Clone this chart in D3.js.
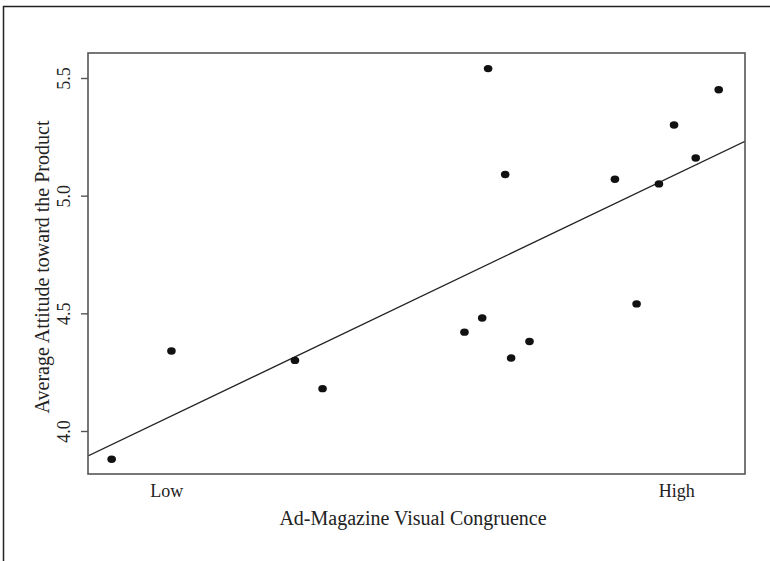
<!DOCTYPE html>
<html>
<head>
<meta charset="utf-8">
<script src="https://cdn.jsdelivr.net/npm/d3@7"></script>
<style>
  html, body { margin: 0; padding: 0; background: #fff; }
  svg { display: block; }
  text { font-family: "Liberation Serif", "Times New Roman", serif; fill: #222; }
</style>
</head>
<body>
<svg id="chart" width="770" height="561"></svg>
<script>
// Visual congruence score (0 = lowest, 10 = highest) for each ad-magazine pair
const congruence = [0.36, 1.27, 3.15, 3.57, 5.73, 6.00, 6.09, 6.35, 6.44, 6.72, 8.02, 8.35, 8.69, 8.92, 9.25, 9.60];
// Average attitude toward the advertised product
const attitude = [3.88, 4.34, 4.30, 4.18, 4.42, 4.48, 5.54, 5.09, 4.31, 4.38, 5.07, 4.54, 5.05, 5.30, 5.16, 5.45];
// Fitted regression line: attitude = intercept + slope * congruence
const fitIntercept = 3.894;
const fitSlope = 0.1337;
const yTicks = [4.0, 4.5, 5.0, 5.5];
const xLabels = [{ value: 1.2, text: "Low" }, { value: 8.96, text: "High" }];

const svg = d3.select("#chart");
const box = { left: 88, right: 745, top: 53, bottom: 474 };

const x = d3.scaleLinear().domain([0, 10]).range([box.left, box.right]);
const y = d3.scaleLinear().domain([4.0, 5.5]).range([431, 78]);

// Outer figure frame (top and left edges only)
svg.append("path")
  .attr("d", `M3.5,561 V6.5 H770`)
  .attr("fill", "none").attr("stroke", "#222").attr("stroke-width", 1.5);

// Clip for the fitted line
svg.append("clipPath").attr("id", "plotclip")
  .append("rect")
  .attr("x", box.left).attr("y", box.top)
  .attr("width", box.right - box.left).attr("height", box.bottom - box.top);

// Fitted line
const xd = x.domain();
svg.append("line")
  .attr("clip-path", "url(#plotclip)")
  .attr("x1", x(xd[0])).attr("y1", y(fitIntercept + fitSlope * xd[0]))
  .attr("x2", x(xd[1])).attr("y2", y(fitIntercept + fitSlope * xd[1]))
  .attr("stroke", "#222").attr("stroke-width", 1.3);

// Points
svg.append("g").selectAll("ellipse")
  .data(congruence.map((c, i) => ({ c, a: attitude[i] })))
  .join("ellipse")
  .attr("cx", d => x(d.c)).attr("cy", d => y(d.a))
  .attr("rx", 4.3).attr("ry", 3.7)
  .attr("fill", "#111");

// Plot box
svg.append("rect")
  .attr("x", box.left).attr("y", box.top)
  .attr("width", box.right - box.left).attr("height", box.bottom - box.top)
  .attr("fill", "none").attr("stroke", "#555").attr("stroke-width", 1.6);

// Y axis with rotated tick labels
const yAxis = d3.axisLeft(y).tickValues(yTicks).tickFormat(d3.format(".1f")).tickSize(7).tickPadding(0);
const yg = svg.append("g").attr("transform", `translate(${box.left},0)`).call(yAxis);
yg.select(".domain").remove();
yg.selectAll(".tick line").attr("stroke", "#555").attr("stroke-width", 1.4);
yg.selectAll(".tick text")
  .attr("x", null).attr("dy", null)
  .attr("text-anchor", "middle")
  .attr("transform", "translate(-18,0) rotate(-90)")
  .attr("font-size", 18)
  .attr("font-family", "Liberation Serif, serif")
  .attr("fill", "#222");

// X axis category labels
svg.append("g").selectAll("text")
  .data(xLabels)
  .join("text")
  .attr("x", d => x(d.value)).attr("y", 497)
  .attr("text-anchor", "middle")
  .attr("font-size", 18)
  .text(d => d.text);

// Axis titles
svg.append("text")
  .attr("x", 413).attr("y", 525)
  .attr("text-anchor", "middle").attr("font-size", 20)
  .text("Ad-Magazine Visual Congruence");

svg.append("text")
  .attr("transform", `translate(49,267) rotate(-90)`)
  .attr("text-anchor", "middle").attr("font-size", 20)
  .text("Average Attitude toward the Product");
</script>
</body>
</html>
